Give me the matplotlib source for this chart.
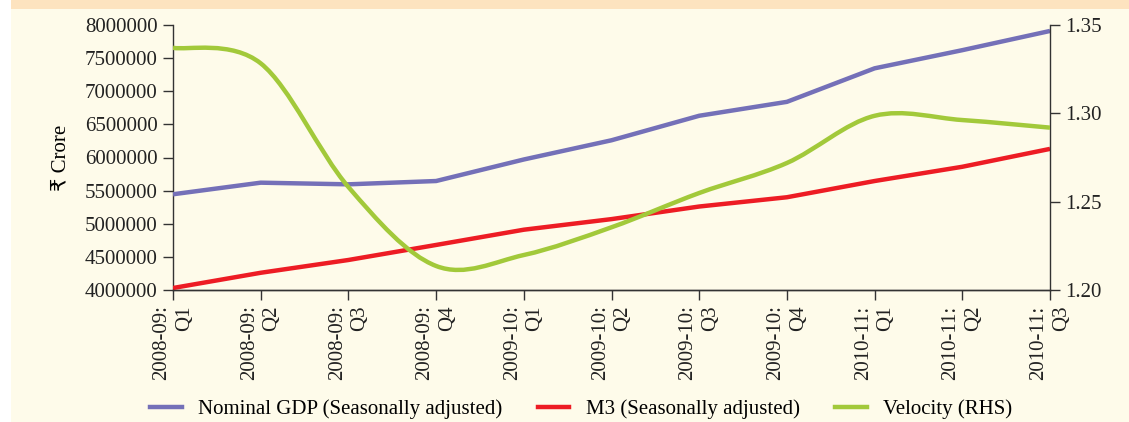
import numpy as np
import matplotlib
matplotlib.use('Agg')
import matplotlib.pyplot as plt
from matplotlib.path import Path
from matplotlib.patches import PathPatch, Rectangle
from matplotlib.lines import Line2D

plt.rcParams['font.family'] = ['Liberation Serif', 'DejaVu Sans']
plt.rcParams['font.size'] = 15

quarters = ['2008-09:\nQ1', '2008-09:\nQ2', '2008-09:\nQ3', '2008-09:\nQ4',
            '2009-10:\nQ1', '2009-10:\nQ2', '2009-10:\nQ3', '2009-10:\nQ4',
            '2010-11:\nQ1', '2010-11:\nQ2', '2010-11:\nQ3']
gdp = [5445000, 5620000, 5595000, 5645000, 5970000, 6260000,
       6630000, 6840000, 7346000, 7620000, 7910000]
m3 = [4030000, 4260000, 4453000, 4680000, 4910000, 5070000,
      5260000, 5400000, 5645000, 5860000, 6130000]
velocity = [1.3371, 1.3283, 1.2583, 1.2136, 1.2198, 1.2355,
            1.2549, 1.2719, 1.2986, 1.2962, 1.2919]

c_gdp = '#7470b8'
c_m3 = '#ed1c24'
c_vel = '#a2c93a'
bg = '#fefbea'


def smooth_path(xs, ys):
    # cubic bezier through every point, tangents from neighbouring points
    pts = np.column_stack([xs, ys]).astype(float)
    ext = np.vstack([pts[0], pts, pts[-1]])
    verts = [pts[0]]
    codes = [Path.MOVETO]
    for i in range(len(pts) - 1):
        p0, p1, p2, p3 = ext[i], ext[i + 1], ext[i + 2], ext[i + 3]
        verts += [p1 + (p2 - p0) / 6.0, p2 - (p3 - p1) / 6.0, p2]
        codes += [Path.CURVE4] * 3
    return Path(verts, codes)


fig = plt.figure(figsize=(11.29, 4.22), dpi=100, facecolor=bg)
fig.patches.append(Rectangle((0, 1 - 9 / 422), 1, 9 / 422, transform=fig.transFigure,
                             facecolor='#fde3bf', edgecolor='none', zorder=0))
fig.patches.append(Rectangle((0, 0), 11 / 1129, 1, transform=fig.transFigure,
                             facecolor='white', edgecolor='none', zorder=0))

ax = fig.add_axes([173 / 1129, 1 - 290 / 422, (1050 - 173) / 1129, (290 - 25) / 422])
ax.set_facecolor('none')
x = np.arange(len(quarters))
ax.plot(x, gdp, color=c_gdp, lw=3.2, solid_capstyle='butt', zorder=3)
ax.plot(x, m3, color=c_m3, lw=3.2, solid_capstyle='butt', zorder=3)
ax.set_xlim(0, len(quarters) - 1)
ax.set_ylim(4000000, 8000000)
ax.set_yticks(np.arange(4000000, 8000001, 500000))
ax.set_yticklabels([str(v) for v in range(4000000, 8000001, 500000)])
ax.set_xticks(x)
ax.set_xticklabels(quarters, rotation=90, ha='center', va='top', multialignment='right',
                   linespacing=1.25)
ax.set_ylabel('₹ Crore', labelpad=10)

ax2 = ax.twinx()
ax2.set_ylim(1.20, 1.35)
ax2.set_yticks([1.20, 1.25, 1.30, 1.35])
ax2.set_yticklabels(['1.20', '1.25', '1.30', '1.35'])
ax2.add_patch(PathPatch(smooth_path(x, velocity), facecolor='none', edgecolor=c_vel,
                        lw=3.2, zorder=3))

for a in (ax, ax2):
    a.spines['top'].set_visible(False)
    for s in a.spines.values():
        s.set_color('#333333')
        s.set_linewidth(1.0)
    a.tick_params(direction='out', length=7, width=1.0, color='#333333',
                  labelcolor='#222222', pad=4)
ax2.spines['left'].set_visible(False)
ax.spines['right'].set_visible(False)

handles = [Line2D([], [], color=c_gdp, lw=3.2),
           Line2D([], [], color=c_m3, lw=3.2),
           Line2D([], [], color=c_vel, lw=3.2)]
fig.legend(handles, ['Nominal GDP (Seasonally adjusted)', 'M3 (Seasonally adjusted)',
                     'Velocity (RHS)'],
           loc='center', bbox_to_anchor=(0.515, 0.03), ncol=3, frameon=False,
           handlelength=1.5, handletextpad=0.8, columnspacing=1.7, fontsize=15)

fig.savefig('out.png', dpi=100, facecolor=bg)
